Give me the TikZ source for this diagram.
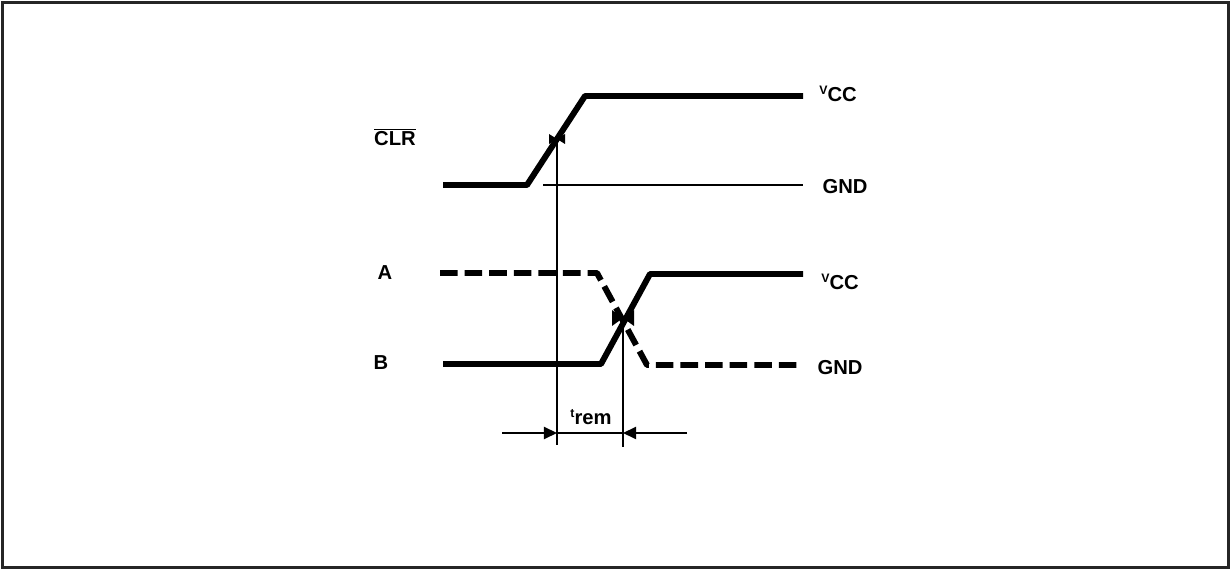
\documentclass[tikz,border=0pt]{standalone}
\usepackage{fontspec}
\setmainfont{Liberation Sans}
\usetikzlibrary{arrows.meta}

\begin{document}
\begin{tikzpicture}[x=0.02cm,y=-0.02cm,
    wave/.style={line width=3.4pt,line join=round},
    dashwave/.style={wave,dash pattern=on 10pt off 4pt},
    thin/.style={line width=0.8pt},
    lbl/.style={font=\bfseries\fontsize{11.5}{13}\selectfont,inner sep=0pt},
    dim/.style={thin,-{Triangle[length=7.5pt,width=7pt]}}]
\useasboundingbox (0,0) rectangle (1231,570);
\draw[line width=1.7pt,draw=black!85] (2.5,2.5) rectangle (1228.5,567.5);
% CLR input
\draw[wave] (443,185) -- (527,185) -- (585,96) -- (803,96);
\draw[thin] (543,185) -- (803,185);
% A and B inputs
\draw[dashwave] (440,273) -- (597,273) -- (647,365) -- (803,365);
\draw[wave] (443,364) -- (601,364) -- (650,274) -- (803,274);
% crossing marks
\coordinate (c1) at (557,139);
\coordinate (c2) at (623,318);
\fill (c1) ++(-8,-5) -- ++(16,10) -- ++(0,-10) -- ++(-16,10) -- cycle;
\fill (c2) ++(-11,-8) -- ++(22,16) -- ++(0,-16) -- ++(-22,16) -- cycle;
% timing lines
\coordinate (d1) at (557,433);
\coordinate (d2) at (623,433);
\draw[thin] (c1) -- (557,445);
\draw[thin] (c2) -- (623,447);
\draw[thin] (d1) -- (d2);
\draw[dim] (502,433) -- (d1);
\draw[dim] (687,433) -- (d2);
% labels
\node[lbl] (clr) at (395,137) {$\overline{\mbox{CLR}}$};
\node[lbl] (a) at (385,273) {A};
\node[lbl] (b) at (381,363) {B};
\node[lbl] (vcc1) at (838,94) {\raisebox{0.7ex}{\scriptsize V}CC};
\node[lbl] (gnd1) at (845,187) {GND};
\node[lbl] (vcc2) at (840,282) {\raisebox{0.7ex}{\scriptsize V}CC};
\node[lbl] (gnd2) at (840,368) {GND};
\node[lbl] (trem) at (591,417) {\raisebox{0.7ex}{\scriptsize t}rem};
\end{tikzpicture}
\end{document}
